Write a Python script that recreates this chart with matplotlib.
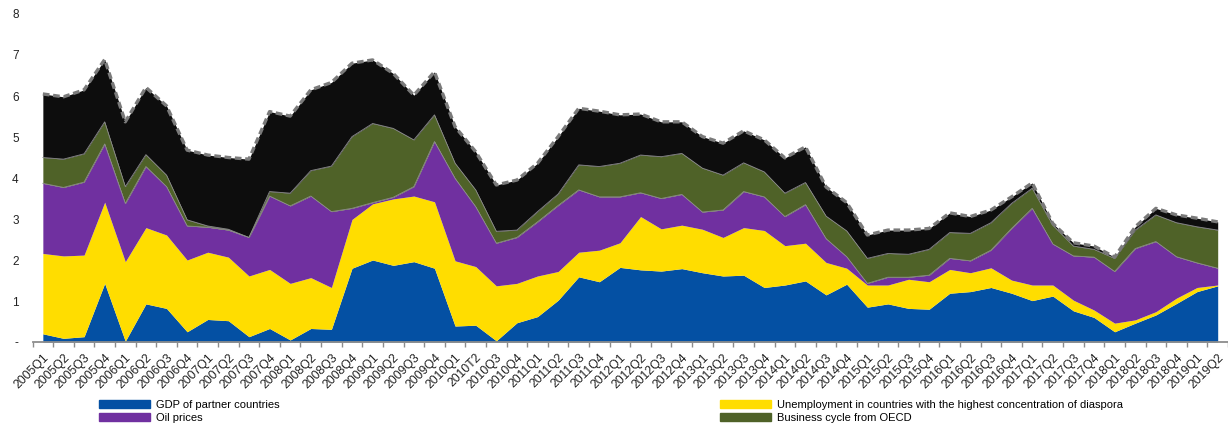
import numpy as np
import matplotlib
matplotlib.use("Agg")
import matplotlib.pyplot as plt
from matplotlib.patches import Patch
from matplotlib.ticker import FuncFormatter

plt.rcParams['font.family'] = ['Liberation Sans', 'DejaVu Sans']

quarters = [
    "2005Q1", "2005Q2", "2005Q3", "2005Q4", "2006Q1", "2006Q2", "2006Q3", "2006Q4",
    "2007Q1", "2007Q2", "2007Q3", "2007Q4", "2008Q1", "2008Q2", "2008Q3", "2008Q4",
    "2009Q1", "2009Q2", "2009Q3", "2009Q4", "2010Q1", "2010T2", "2010Q3", "2010Q4",
    "2011Q1", "2011Q2", "2011Q3", "2011Q4", "2012Q1", "2012Q2", "2012Q3", "2012Q4",
    "2013Q1", "2013Q2", "2013Q3", "2013Q4", "2014Q1", "2014Q2", "2014Q3", "2014Q4",
    "2015Q1", "2015Q2", "2015Q3", "2015Q4", "2016Q1", "2016Q2", "2016Q3", "2016Q4",
    "2017Q1", "2017Q2", "2017Q3", "2017Q4", "2018Q1", "2018Q2", "2018Q3", "2018Q4",
    "2019Q1", "2019Q2",
]

# contributions, stacked bottom to top
gdp = [0.20, 0.09, 0.13, 1.43, 0.02, 0.93, 0.82, 0.25, 0.55, 0.52,
       0.13, 0.33, 0.05, 0.33, 0.31, 1.80, 2.00, 1.87, 1.96, 1.80,
       0.39, 0.41, 0.03, 0.47, 0.62, 1.02, 1.59, 1.47, 1.82, 1.76,
       1.73, 1.79, 1.69, 1.61, 1.63, 1.33, 1.39, 1.49, 1.15, 1.41,
       0.85, 0.93, 0.82, 0.80, 1.19, 1.23, 1.33, 1.19, 1.01, 1.12,
       0.76, 0.60, 0.25, 0.46, 0.66, 0.94, 1.23, 1.37]
unemployment = [1.96, 2.01, 1.99, 1.98, 1.94, 1.86, 1.79, 1.75, 1.64, 1.55,
                1.48, 1.44, 1.38, 1.24, 1.02, 1.19, 1.37, 1.62, 1.60, 1.62,
                1.59, 1.43, 1.34, 0.96, 0.99, 0.70, 0.60, 0.77, 0.60, 1.30,
                1.03, 1.06, 1.06, 0.94, 1.16, 1.39, 0.96, 0.92, 0.79, 0.39,
                0.54, 0.46, 0.71, 0.67, 0.58, 0.46, 0.48, 0.32, 0.38, 0.27,
                0.26, 0.18, 0.21, 0.08, 0.08, 0.13, 0.10, 0.02]
oil = [1.71, 1.67, 1.78, 1.42, 1.42, 1.49, 1.18, 0.83, 0.61, 0.66,
       0.94, 1.79, 1.89, 1.99, 1.85, 0.27, 0.03, 0.04, 0.23, 1.47,
       2.01, 1.46, 1.04, 1.12, 1.32, 1.61, 1.52, 1.30, 1.12, 0.58,
       0.74, 0.75, 0.42, 0.67, 0.88, 0.82, 0.71, 0.94, 0.58, 0.28,
       0.04, 0.19, 0.05, 0.16, 0.27, 0.29, 0.43, 1.26, 1.87, 1.00,
       1.08, 1.29, 1.26, 1.74, 1.71, 1.01, 0.60, 0.41]
oecd = [0.63, 0.69, 0.69, 0.54, 0.41, 0.29, 0.28, 0.15, 0.03, 0.02,
        0.00, 0.11, 0.31, 0.62, 1.11, 1.75, 1.93, 1.68, 1.14, 0.65,
        0.37, 0.41, 0.29, 0.18, 0.25, 0.28, 0.61, 0.74, 0.82, 0.92,
        1.02, 1.00, 1.07, 0.85, 0.70, 0.61, 0.57, 0.54, 0.55, 0.63,
        0.61, 0.58, 0.56, 0.63, 0.63, 0.67, 0.67, 0.61, 0.49, 0.46,
        0.24, 0.19, 0.32, 0.45, 0.65, 0.83, 0.88, 0.93]
other = [1.55, 1.52, 1.56, 1.52, 1.58, 1.64, 1.69, 1.70, 1.73, 1.75,
         1.91, 1.95, 1.88, 1.97, 2.04, 1.79, 1.55, 1.34, 1.09, 1.05,
         0.89, 0.93, 1.13, 1.22, 1.18, 1.40, 1.38, 1.35, 1.18, 1.00,
         0.85, 0.77, 0.77, 0.78, 0.78, 0.78, 0.86, 0.87, 0.71, 0.69,
         0.57, 0.57, 0.59, 0.51, 0.48, 0.41, 0.31, 0.16, 0.13, 0.04,
         0.08, 0.08, 0.03, 0.08, 0.16, 0.19, 0.21, 0.20]

labels = ["GDP of partner countries",
          "Unemployment in countries with the highest concentration of diaspora",
          "Oil prices",
          "Business cycle from OECD",
          None]
colors = ["#0450A3", "#FFDD00", "#7030A0", "#4F6228", "#0D0D0D"]

fig = plt.figure(figsize=(12.28, 4.32), dpi=100)
ax = fig.add_axes([0.0265, 0.2083, 0.9735, 0.7593])

x = np.arange(len(quarters))
base = np.zeros(len(x))
for vals, col in zip([gdp, unemployment, oil, oecd, other], colors):
    top = base + np.array(vals)
    ax.fill_between(x, base, top, color=col, lw=0)
    if col in ("#7030A0", "#4F6228"):
        ax.plot(x, top, color="#8c8c8c", lw=0.6)
    base = top

# total as dashed outline
ax.plot(x, base, color="#7a7a7a", lw=2.4, ls=(0, (2.0, 1.1)), solid_capstyle="butt")

ax.set_xlim(-0.5, len(x) - 0.5)
ax.set_ylim(0, 8)
ax.set_yticks(range(0, 9))
ax.yaxis.set_major_formatter(FuncFormatter(lambda v, p: "-" if v == 0 else f"{int(v)}"))
ax.tick_params(axis="y", length=0, pad=10, labelsize=8.5, labelcolor="#222222")

ax.set_xticks(x)
ax.set_xticklabels(quarters, rotation=45, ha="right", rotation_mode="anchor",
                   fontsize=8.8, color="#222222")
ax.set_xticks(np.arange(-0.5, len(x), 1), minor=True)
ax.tick_params(axis="x", which="major", length=0, pad=7)
ax.tick_params(axis="x", which="minor", length=3.5, width=1, color="#8c8c8c")

for s in ("top", "right", "left"):
    ax.spines[s].set_visible(False)
ax.spines["bottom"].set_color("#8c8c8c")
ax.spines["bottom"].set_linewidth(1.3)

# legend in two columns placed under the axis labels
left_items = [Patch(color=colors[0], label=labels[0]), Patch(color=colors[2], label=labels[2])]
right_items = [Patch(color=colors[1], label=labels[1]), Patch(color=colors[3], label=labels[3])]
leg_kw = dict(loc="upper left", frameon=False, fontsize=8, borderpad=0, borderaxespad=0,
              handlelength=4.6, handleheight=0.65, handletextpad=0.55, labelspacing=0.25)
fig.legend(handles=left_items, bbox_to_anchor=(99 / 1228, 1 - 400 / 432), **leg_kw)
fig.legend(handles=right_items, bbox_to_anchor=(720 / 1228, 1 - 400 / 432), **leg_kw)

fig.savefig("out.png", dpi=100)
